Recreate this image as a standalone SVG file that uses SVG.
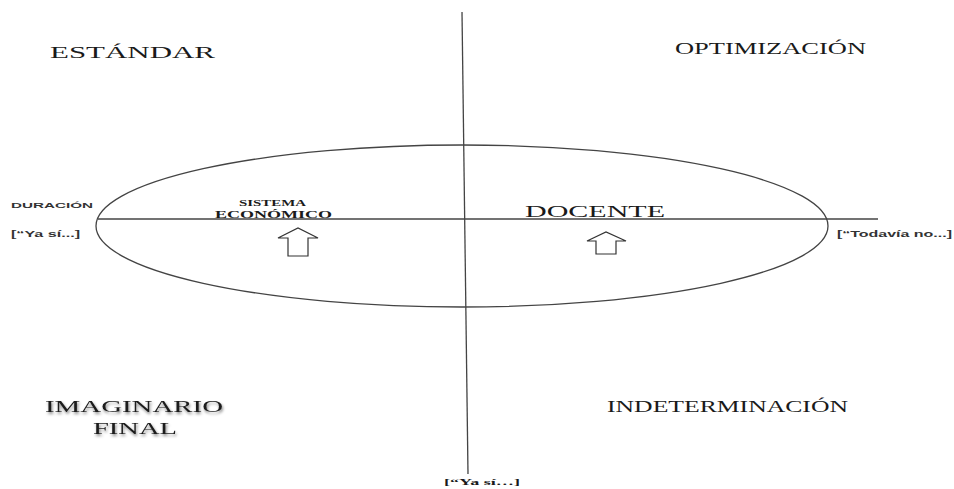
<svg xmlns="http://www.w3.org/2000/svg" width="954" height="489" viewBox="0 0 954 489">
<style>
.ln{stroke:#444;stroke-width:1.3;fill:none}
.ser{font-family:"Liberation Serif","Times New Roman",serif;fill:#1a1a1a}
.sans{font-family:"Liberation Sans",Arial,sans-serif;fill:#333;font-weight:bold}
.arr{fill:#fff;stroke:#333;stroke-width:1.2}
</style>
<defs>
<filter id="sh" x="-10%" y="-30%" width="120%" height="160%">
<feGaussianBlur in="SourceAlpha" stdDeviation="1.5"/>
<feOffset dx="1" dy="1.5" result="b"/>
<feComponentTransfer><feFuncA type="linear" slope="0.5"/></feComponentTransfer>
<feMerge><feMergeNode/><feMergeNode in="SourceGraphic"/></feMerge>
</filter>
</defs>
<rect width="954" height="489" fill="#fff"/>
<g id="connectors">
<line class="ln" x1="462" y1="12" x2="468" y2="474"/>
<line class="ln" x1="98" y1="219" x2="878" y2="219"/>
<ellipse class="ln" cx="462" cy="226" rx="366" ry="81"/>
</g>
<g id="estandar"><text class="ser" x="50" y="58" font-size="17" textLength="165" lengthAdjust="spacingAndGlyphs">ESTÁNDAR</text></g>
<g id="optimizacion"><text class="ser" x="675" y="54" font-size="16" textLength="191" lengthAdjust="spacingAndGlyphs">OPTIMIZACIÓN</text></g>
<g id="duracion">
<text class="sans" x="11" y="208" font-size="8" textLength="82" lengthAdjust="spacingAndGlyphs">DURACIÓN</text>
<text class="sans" x="11" y="237" font-size="9.5" textLength="69" lengthAdjust="spacingAndGlyphs">[“Ya sí...]</text>
</g>
<g id="sistema">
<text class="ser" x="239" y="206" font-size="8.5" font-weight="bold" textLength="67" lengthAdjust="spacingAndGlyphs">SISTEMA</text>
<text class="ser" x="215" y="218" font-size="11" font-weight="bold" textLength="117" lengthAdjust="spacingAndGlyphs">ECONÓMICO</text>
<path class="arr" d="M288 256 V238 H278 L298 228 L318 238 H308 V256 Z"/>
</g>
<g id="docente">
<text class="ser" x="525" y="217" font-size="16" textLength="140" lengthAdjust="spacingAndGlyphs">DOCENTE</text>
<path class="arr" d="M596 254 V241 H587 L606 232 L626 241 H616 V254 Z"/>
</g>
<g id="todavia"><text class="sans" x="837" y="237" font-size="9.5" font-weight="normal" textLength="115" lengthAdjust="spacingAndGlyphs">[“Todavía no...]</text></g>
<g id="imaginario" filter="url(#sh)">
<text class="ser" x="45" y="412" font-size="17" textLength="178" lengthAdjust="spacingAndGlyphs">IMAGINARIO</text>
<text class="ser" x="93" y="434" font-size="17" textLength="84" lengthAdjust="spacingAndGlyphs">FINAL</text>
</g>
<g id="indeterminacion"><text class="ser" x="607" y="412" font-size="16.5" textLength="241" lengthAdjust="spacingAndGlyphs">INDETERMINACIÓN</text></g>
<g id="yasi-bottom"><text class="ser" x="444" y="485" font-size="9" font-weight="bold" textLength="76" lengthAdjust="spacingAndGlyphs">[“Ya sí…]</text></g>
</svg>
